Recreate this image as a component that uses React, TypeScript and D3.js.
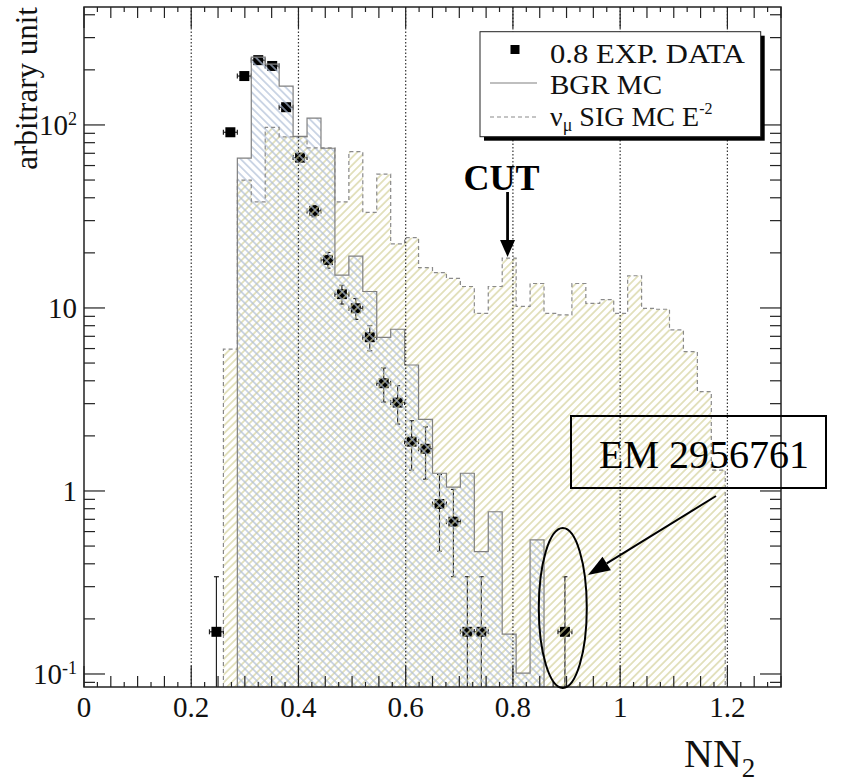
import React from "react";
import * as d3 from "d3";

// ---------- data ----------
const BIN_WIDTH = 0.026;
const bgrValues = [
  0, 0, 0, 0, 0, 0, 0, 0, 0, 0, 0,
  65.8, 235, 215, 163, 86.5, 109, 74.6, 15.1, 19.2, 12.3, 6.9, 7.65, 4.88, 2.46, 1.25, 1.05, 1.25, 0.466, 0.77, 0.165, 0.101, 0.54,
  0, 0, 0, 0, 0, 0, 0, 0, 0, 0, 0, 0, 0, 0, 0, 0, 0,
];
const sigValues = [
  0, 0, 0, 0, 0, 0, 0, 0, 0, 0,
  5.95, 50, 38, 97, 86, 86, 75, 75, 38, 71.5,
  33.3, 53.8, 22.4, 24.2, 16.6, 15.6, 14.5, 13.1, 9.35, 13.1,
  18.7, 10.2, 13.6, 9.35, 9.16, 13.6, 10.6, 11.1, 9.35, 15,
  9.96, 9.84, 7.59, 5.77, 3.49, 1.3,
  0, 0, 0, 0,
];
const dataX = [0.247, 0.273, 0.299, 0.325, 0.351, 0.377, 0.403, 0.429, 0.455, 0.481, 0.507, 0.533, 0.559, 0.585, 0.611, 0.637, 0.663, 0.689, 0.715, 0.741, 0.897];
const dataY = [0.17, 91.2, 185, 226, 210, 125, 66.3, 33.9, 18.3, 11.9, 9.96, 6.92, 3.88, 3.04, 1.86, 1.7, 0.849, 0.68, 0.17, 0.17, 0.17];
const dataErr = [0.17, 3.9, 5.6, 6.2, 6.0, 4.6, 3.4, 2.4, 1.8, 1.4, 1.3, 1.09, 0.82, 0.72, 0.56, 0.54, 0.38, 0.34, 0.17, 0.17, 0.17];
const xTickLabels = ["0", "0.2", "0.4", "0.6", "0.8", "1", "1.2"];
const xTickValues = [0, 0.2, 0.4, 0.6, 0.8, 1.0, 1.2];
const gridValues = [0.2, 0.4, 0.6, 0.8, 1.0, 1.2];
const yTickValues = [0.1, 1, 10, 100];
const yTickBase = ["10", "1", "10", "10"];
const yTickSup = ["-1", "", "", "2"];

// ---------- layout ----------
const W = 848, H = 782;
const L = 84, R = 781, T = 7, B = 687;
const FONT = "Liberation Serif, Times New Roman, Times, Tinos, DejaVu Serif, serif";
const TS: React.CSSProperties = { fontFamily: FONT };

const x = d3.scaleLinear().domain([0, 1.3]).range([L, R]);
const y = d3.scaleLog().domain([0.0849, 441]).range([B, T]);
const yMin = 0.0849;

function histPath(vals: number[], close: boolean) {
  let first = -1, last = -1;
  vals.forEach((v, i) => { if (v > 0) { if (first < 0) first = i; last = i; } });
  let d = `M${x(first * BIN_WIDTH)},${B}`;
  for (let i = first; i <= last; i++) {
    const v = Math.max(vals[i], yMin);
    d += `L${x(i * BIN_WIDTH)},${y(v)}L${x((i + 1) * BIN_WIDTH)},${y(v)}`;
  }
  d += `L${x((last + 1) * BIN_WIDTH)},${B}`;
  if (close) d += "Z";
  return d;
}

export default function App() {
  const xTicks: { v: number; len: number }[] = [];
  for (let i = 0; i <= 52; i++) {
    const v = i * 0.025;
    const len = i % 8 === 0 ? 21 : i % 2 === 0 ? 11 : 5;
    xTicks.push({ v, len });
  }
  const yTicks: { v: number; len: number }[] = [];
  for (let dd = -2; dd <= 2; dd++) {
    for (let m = 1; m <= 9; m++) {
      const v = m * Math.pow(10, dd);
      if (v >= yMin && v <= 441) yTicks.push({ v, len: m === 1 ? 21 : 11 });
    }
  }

  // EM annotation arrow
  const a0 = [716, 496], a1 = [588, 575];
  const ang = Math.atan2(a1[1] - a0[1], a1[0] - a0[0]);
  const hl = 22, hw = 8;
  const bx = a1[0] - hl * Math.cos(ang), by = a1[1] - hl * Math.sin(ang);
  const head = [
    [a1[0], a1[1]],
    [bx + hw * Math.sin(ang), by - hw * Math.cos(ang)],
    [bx - hw * Math.sin(ang), by + hw * Math.cos(ang)],
  ];

  const cutX = x(0.79);

  return (
    <svg width={W} height={H} style={{ position: "absolute", left: 0, top: 0, background: "#fff" }}>
      <defs>
        <pattern id="sigHatch" width="5.5" height="5.5" patternUnits="userSpaceOnUse" patternTransform="rotate(45)">
          <line x1="2.75" y1="0" x2="2.75" y2="5.5" stroke="#d3cf98" strokeWidth="1.2" />
        </pattern>
        <pattern id="bgrHatch" width="5.5" height="5.5" patternUnits="userSpaceOnUse" patternTransform="rotate(-45)">
          <line x1="2.75" y1="0" x2="2.75" y2="5.5" stroke="#aebdd6" strokeWidth="1.2" />
        </pattern>
        <clipPath id="frameClip">
          <rect x={L} y={T} width={R - L} height={B - T} />
        </clipPath>
      </defs>
      <rect x={0} y={0} width={W} height={H} fill="#fff" />

      <g clipPath="url(#frameClip)">
        {/* data points (drawn under the hatching) */}
        {dataX.map((cx, i) => {
          const px = x(cx), py = y(dataY[i]);
          const top = y(dataY[i] + dataErr[i]);
          const lowV = dataY[i] - dataErr[i];
          const bot = lowV > yMin ? y(lowV) : B;
          const xl = x(cx - BIN_WIDTH / 2), xr = x(cx + BIN_WIDTH / 2);
          return (
            <g key={i} stroke="#222" strokeWidth={1.2}>
              <line x1={px} y1={top} x2={px} y2={bot} />
              <line x1={px - 2.5} y1={top} x2={px + 2.5} y2={top} />
              {lowV > yMin && <line x1={px - 2.5} y1={bot} x2={px + 2.5} y2={bot} />}
              <line x1={xl} y1={py} x2={xr} y2={py} />
              <line x1={xl} y1={py - 2.5} x2={xl} y2={py + 2.5} />
              <line x1={xr} y1={py - 2.5} x2={xr} y2={py + 2.5} />
              <rect x={px - 5} y={py - 5} width={10} height={10} fill="#000" stroke="none" />
            </g>
          );
        })}

        {/* histograms */}
        <path d={histPath(sigValues, true)} fill="url(#sigHatch)" stroke="none" />
        <path d={histPath(bgrValues, true)} fill="url(#bgrHatch)" stroke="none" />
        <path d={histPath(sigValues, false)} fill="none" stroke="#8a8a8a" strokeWidth={1.2} strokeDasharray="4,3" />
        <path d={histPath(bgrValues, false)} fill="none" stroke="#808080" strokeWidth={1.2} />

        {/* grid */}
        {gridValues.map((g) => (
          <line key={g} x1={x(g)} x2={x(g)} y1={T} y2={B} stroke="#333" strokeWidth={1.2} strokeDasharray="1.5,2" />
        ))}
      </g>

      {/* frame + ticks */}
      <rect x={L} y={T} width={R - L} height={B - T} fill="none" stroke="#222" strokeWidth={1.5} />
      <g stroke="#222" strokeWidth={1.2}>
        {xTicks.map((t, i) => (
          <g key={i}>
            <line x1={x(t.v)} x2={x(t.v)} y1={B} y2={B - t.len} />
            <line x1={x(t.v)} x2={x(t.v)} y1={T} y2={T + t.len} />
          </g>
        ))}
        {yTicks.map((t, i) => (
          <g key={i}>
            <line x1={L} x2={L + t.len} y1={y(t.v)} y2={y(t.v)} />
            <line x1={R} x2={R - t.len} y1={y(t.v)} y2={y(t.v)} />
          </g>
        ))}
      </g>

      {/* tick labels */}
      {xTickValues.map((v, i) => (
        <text key={i} x={x(v)} y={717} fontSize={29} textAnchor="middle" fill="#111" style={TS}>{xTickLabels[i]}</text>
      ))}
      {yTickValues.map((v, i) => (
        <text key={i} x={77} y={y(v) + 10} fontSize={29} textAnchor="end" fill="#111" style={TS}>
          {yTickBase[i]}
          {yTickSup[i] && <tspan fontSize={18} dy={-10}>{yTickSup[i]}</tspan>}
        </text>
      ))}

      {/* axis titles */}
      <text transform={`translate(37,${T}) rotate(-90)`} textAnchor="end" fontSize={31} fill="#111" style={TS}>arbitrary unit</text>
      <text x={684} y={767} fontSize={40} fill="#111" style={TS}>NN<tspan fontSize={27} dy={10}>2</tspan></text>

      {/* legend */}
      <rect x={484} y={35.7} width={280.7} height={105} fill="#000" />
      <rect x={480} y={31.7} width={280.7} height={105} fill="#fff" stroke="#222" strokeWidth={1} />
      <rect x={510.5} y={45} width={9} height={9} fill="#000" />
      <text x={550} y={63} fontSize={28} fill="#111" textLength={195} lengthAdjust="spacingAndGlyphs" style={TS}>0.8 EXP. DATA</text>
      <line x1={490} x2={537} y1={83} y2={83} stroke="#808080" strokeWidth={1.2} />
      <text x={550} y={94} fontSize={28} fill="#111" textLength={112} lengthAdjust="spacingAndGlyphs" style={TS}>BGR MC</text>
      <line x1={490} x2={537} y1={117} y2={117} stroke="#8a8a8a" strokeWidth={1.2} strokeDasharray="4,3" />
      <text x={550} y={126} fontSize={28} fill="#111" style={TS}>
        ν<tspan fontSize={18} dy={5}>μ</tspan><tspan dy={-5}> SIG MC E</tspan><tspan fontSize={16} dy={-12}>-2</tspan>
      </text>

      {/* CUT annotation */}
      <text x={cutX - 6} y={190} fontSize={36} fontWeight="bold" textAnchor="middle" fill="#000" style={TS}>CUT</text>
      <line x1={cutX} x2={cutX} y1={192} y2={244} stroke="#000" strokeWidth={2.8} />
      <polygon points={`${cutX - 7.5},240 ${cutX + 7.5},240 ${cutX},257`} fill="#000" />

      {/* EM annotation */}
      <rect x={571} y={416} width={255} height={72} fill="none" stroke="#000" strokeWidth={2} />
      <text x={599} y={468} fontSize={40} fill="#000" style={TS}>EM 2956761</text>
      <line x1={a0[0]} y1={a0[1]} x2={bx} y2={by} stroke="#000" strokeWidth={2} />
      <polygon points={head.map((p) => p.join(",")).join(" ")} fill="#000" />
      <ellipse cx={x(0.893)} cy={608} rx={24} ry={80} fill="none" stroke="#000" strokeWidth={2} />
    </svg>
  );
}
